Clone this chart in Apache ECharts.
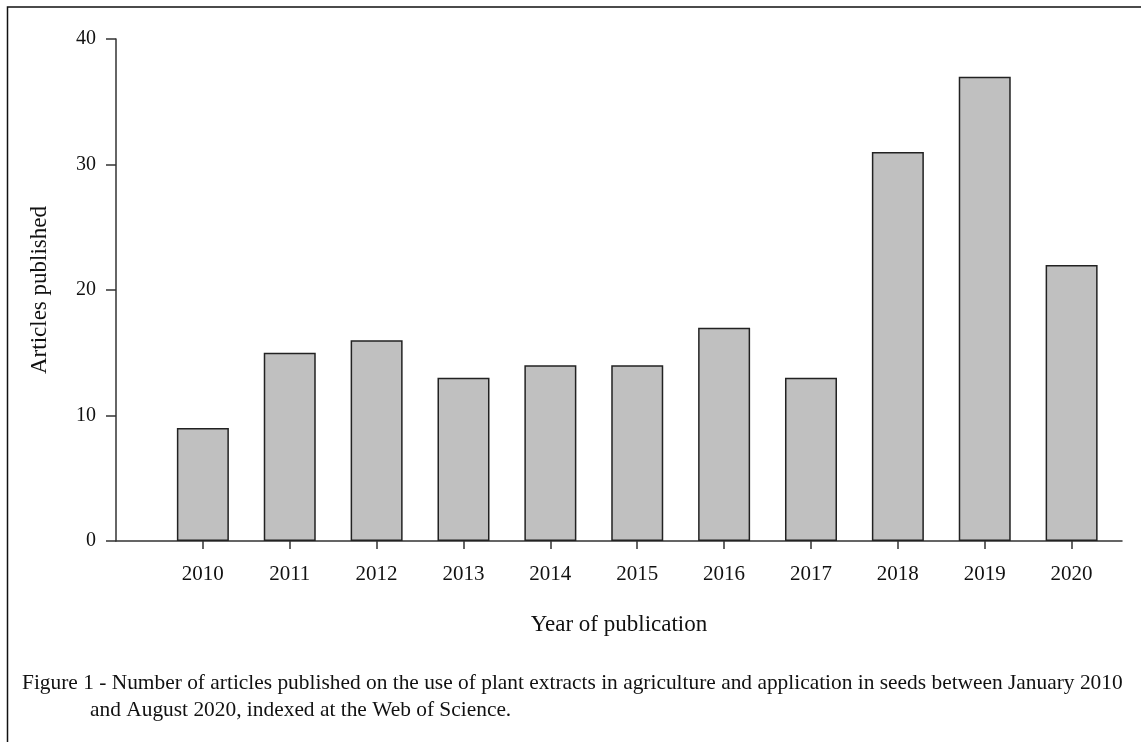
<!DOCTYPE html>
<html>
<head>
<meta charset="utf-8">
<script src="https://cdn.jsdelivr.net/npm/echarts@6/dist/echarts.min.js"></script>
<style>
html,body{margin:0;padding:0;background:#fff;}
#chart{width:1141px;height:742px;}
</style>
</head>
<body>
<div id="chart"></div>
<script>
var years = [2010, 2011, 2012, 2013, 2014, 2015, 2016, 2017, 2018, 2019, 2020];
var articles = [9, 15, 16, 13, 14, 14, 17, 13, 31, 37, 22];
var yTicks = [0, 10, 20, 30, 40];
var xTitle = 'Year of publication';
var yTitle = 'Articles published';
var captionLine1 = 'Figure 1 - Number of articles published on the use of plant extracts in agriculture and application in seeds between January 2010';
var captionLine2 = 'and August 2020, indexed at the Web of Science.';

var serif = '"Liberation Serif", "DejaVu Serif", serif';
var chart = echarts.init(document.getElementById('chart'));
var option = {
  animation: false,
  backgroundColor: '#fff',
  grid: { left: 116, top: 39, right: 19, bottom: 201, containLabel: false },
  xAxis: {
    type: 'value',
    min: 2009,
    max: 2020.58,
    interval: 1,
    splitLine: { show: false },
    axisLine: { show: true, onZero: false, lineStyle: { color: '#333', width: 1.5 } },
    axisTick: { show: true, inside: false, length: 8, customValues: years, lineStyle: { color: '#333', width: 1.5 } },
    axisLabel: { customValues: years, margin: 23, fontFamily: serif, fontSize: 21, color: '#111',
      formatter: function (v) { return String(v); } },
    name: xTitle,
    nameLocation: 'middle',
    nameGap: 72,
    nameTextStyle: { fontFamily: serif, fontSize: 23, color: '#111' }
  },
  yAxis: {
    type: 'value',
    min: 0,
    max: 40,
    interval: 10,
    splitLine: { show: false },
    axisLine: { show: true, lineStyle: { color: '#333', width: 1.5 } },
    axisTick: { show: true, inside: false, length: 10, lineStyle: { color: '#333', width: 1.5 } },
    axisLabel: { margin: 20, fontFamily: serif, fontSize: 20, color: '#111',
      customValues: yTicks },
    name: yTitle,
    nameLocation: 'middle',
    nameGap: 65,
    nameRotate: 90,
    nameTextStyle: { fontFamily: serif, fontSize: 23, color: '#111' }
  },
  series: [{
    type: 'bar',
    data: years.map(function (y, i) { return [y, articles[i]]; }),
    barWidth: 52,
    itemStyle: { color: '#c0c0c0', borderColor: '#222', borderWidth: 1.5 }
  }],
  graphic: [
    { type: 'rect', shape: { x: 7.5, y: 7, width: 1300, height: 900 },
      style: { fill: 'none', stroke: '#111', lineWidth: 1.5 }, silent: true },
    { type: 'text', left: 22, top: 673,
      style: { text: captionLine1, font: '21.4px ' + serif, fill: '#111' } },
    { type: 'text', left: 90, top: 700,
      style: { text: captionLine2, font: '21.4px ' + serif, fill: '#111' } }
  ]
};
chart.setOption(option);
</script>
</body>
</html>
